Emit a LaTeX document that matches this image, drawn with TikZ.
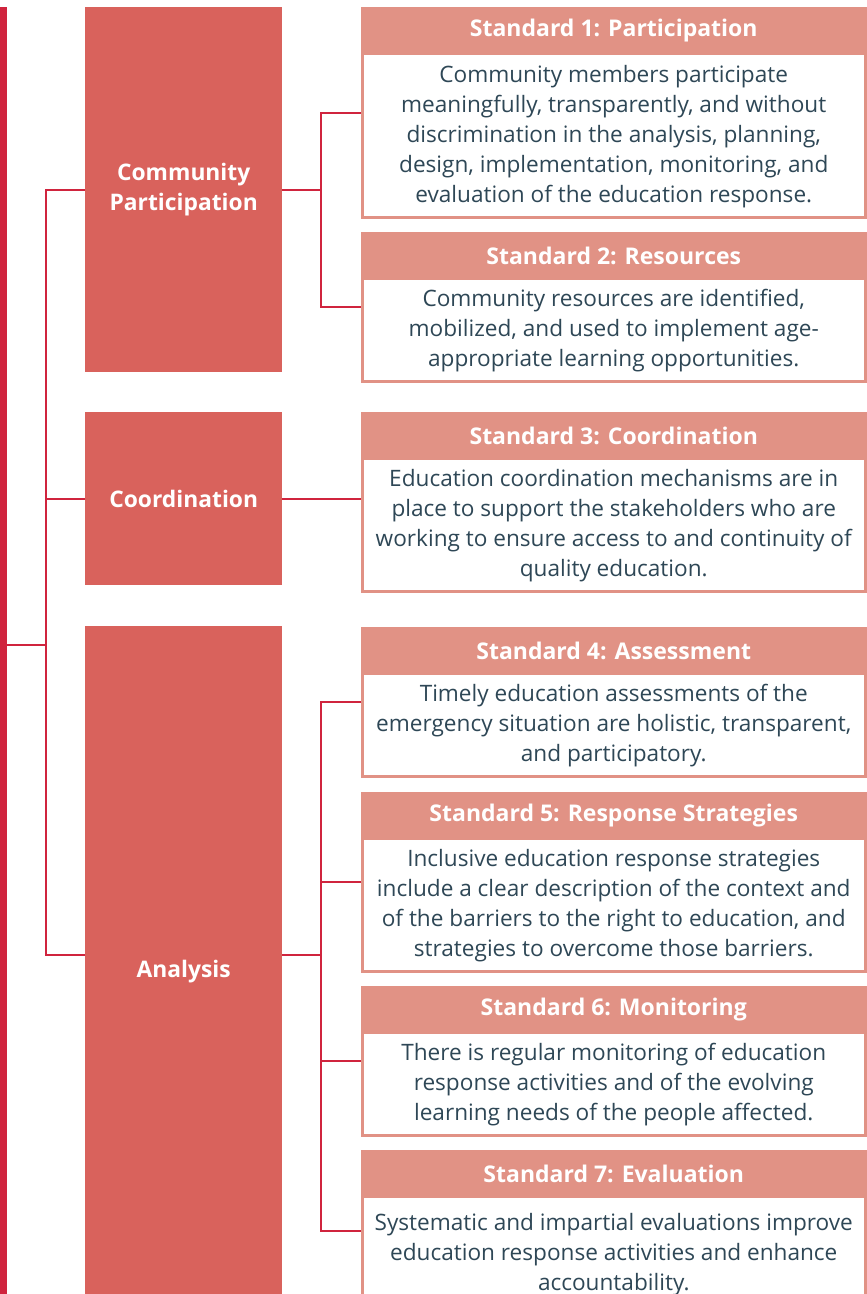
\documentclass[tikz,border=0pt]{standalone}
\usepackage{fontspec}
\setmainfont{Open Sans}
\usepackage{tikz}
\usetikzlibrary{positioning}
\usetikzlibrary{calc}
\usepackage{xcolor}
\definecolor{linkred}{HTML}{D0243E}
\definecolor{catred}{HTML}{D9625C}
\definecolor{hdrred}{HTML}{E19285}
\definecolor{bodyblue}{HTML}{2E4756}
\tikzset{
catbox/.style={fill=catred, text=white, font=\bfseries\fontsize{22.8}{30}\selectfont, align=center, anchor=north west, inner sep=0pt, minimum width=197pt},
stdbox/.style={draw=hdrred, line width=2.5pt, fill=white, anchor=north west, inner sep=0pt, minimum width=503pt},
stdhead/.style={draw=hdrred, fill=hdrred, line width=2.5pt, text=white, font=\bfseries\fontsize{23}{26}\selectfont, anchor=north, inner sep=0pt, minimum width=503pt, minimum height=45pt},
stdtext/.style={text=bodyblue, font=\fontsize{22.6}{30}\selectfont, align=center, inner sep=0pt},
link/.style={draw=linkred, line width=2pt}
}
\begin{document}
\begin{tikzpicture}[x=1pt,y=-1pt]
\useasboundingbox (0,0) rectangle (867,1294);
\clip (0,0) rectangle (867,1294);
\node[fill=linkred, anchor=north west, inner sep=0pt, minimum width=7pt, minimum height=1300pt] (bar) at (0,7) {};
\node[catbox, minimum height=365pt] (cp) at (85,7) {Community\\Participation};
\node[catbox, minimum height=173pt] (co) at (85,412) {Coordination};
\node[catbox, minimum height=690pt] (an) at (85,626) {Analysis};

\node[stdbox, minimum height=209pt] (s1) at (361,7) {};
\node[stdhead] (h1) at (s1.north) {Standard 1: Participation};
\node[stdtext] (t1) at ($(h1.south)!.5!(s1.south)$) {Community members participate\\meaningfully, transparently, and without\\discrimination in the analysis, planning,\\design, implementation, monitoring, and\\evaluation of the education response.};

\node[stdbox, minimum height=148pt] (s2) at (361,232) {};
\node[stdhead] (h2) at (s2.north) {Standard 2: Resources};
\node[stdtext] (t2) at ($(h2.south)!.5!(s2.south)$) {Community resources are identified,\\mobilized, and used to implement age-\\appropriate learning opportunities.};

\node[stdbox, minimum height=178pt] (s3) at (361,412) {};
\node[stdhead] (h3) at (s3.north) {Standard 3: Coordination};
\node[stdtext] (t3) at ($(h3.south)!.5!(s3.south)$) {Education coordination mechanisms are in\\place to support the stakeholders who are\\working to ensure access to and continuity of\\quality education.};

\node[stdbox, minimum height=148pt] (s4) at (361,627) {};
\node[stdhead] (h4) at (s4.north) {Standard 4: Assessment};
\node[stdtext] (t4) at ($(h4.south)!.5!(s4.south)$) {Timely education assessments of the\\emergency situation are holistic, transparent,\\and participatory.};

\node[stdbox, minimum height=178pt] (s5) at (361,792) {};
\node[stdhead] (h5) at (s5.north) {Standard 5: Response Strategies};
\node[stdtext] (t5) at ($(h5.south)!.5!(s5.south)$) {Inclusive education response strategies\\include a clear description of the context and\\of the barriers to the right to education, and\\strategies to overcome those barriers.};

\node[stdbox, minimum height=148pt] (s6) at (361,986) {};
\node[stdhead] (h6) at (s6.north) {Standard 6: Monitoring};
\node[stdtext] (t6) at ($(h6.south)!.5!(s6.south)$) {There is regular monitoring of education\\response activities and of the evolving\\learning needs of the people affected.};

\node[stdbox, minimum height=160pt] (s7) at (361,1150) {};
\node[stdhead] (h7) at (s7.north) {Standard 7: Evaluation};
\node[stdtext] (t7) at ($(h7.south)!.5!(s7.south)$) {Systematic and impartial evaluations improve\\education response activities and enhance\\accountability.};

% left bracket
\coordinate (trunk) at (46,645);
\draw[link] (bar.east |- trunk) -- (trunk);
\draw[link] (cp.west) -| (trunk) |- ([yshift=16pt]an.west);
\draw[link] (co.west) -- (co.west -| trunk);
% right brackets
\draw[link] (cp.east) -- ++(39,0);
\draw[link] (s1.west) -- ++(-40,0) |- (s2.west);
\draw[link] (co.east) -- (co.east -| s3.west);
\draw[link] ([yshift=16pt]an.east) -- ++(39,0);
\draw[link] (s4.west) -- ++(-40,0) |- (s7.west);
\draw[link] (s5.west) -- ++(-40,0);
\draw[link] (s6.west) -- ++(-40,0);
\end{tikzpicture}
\end{document}
